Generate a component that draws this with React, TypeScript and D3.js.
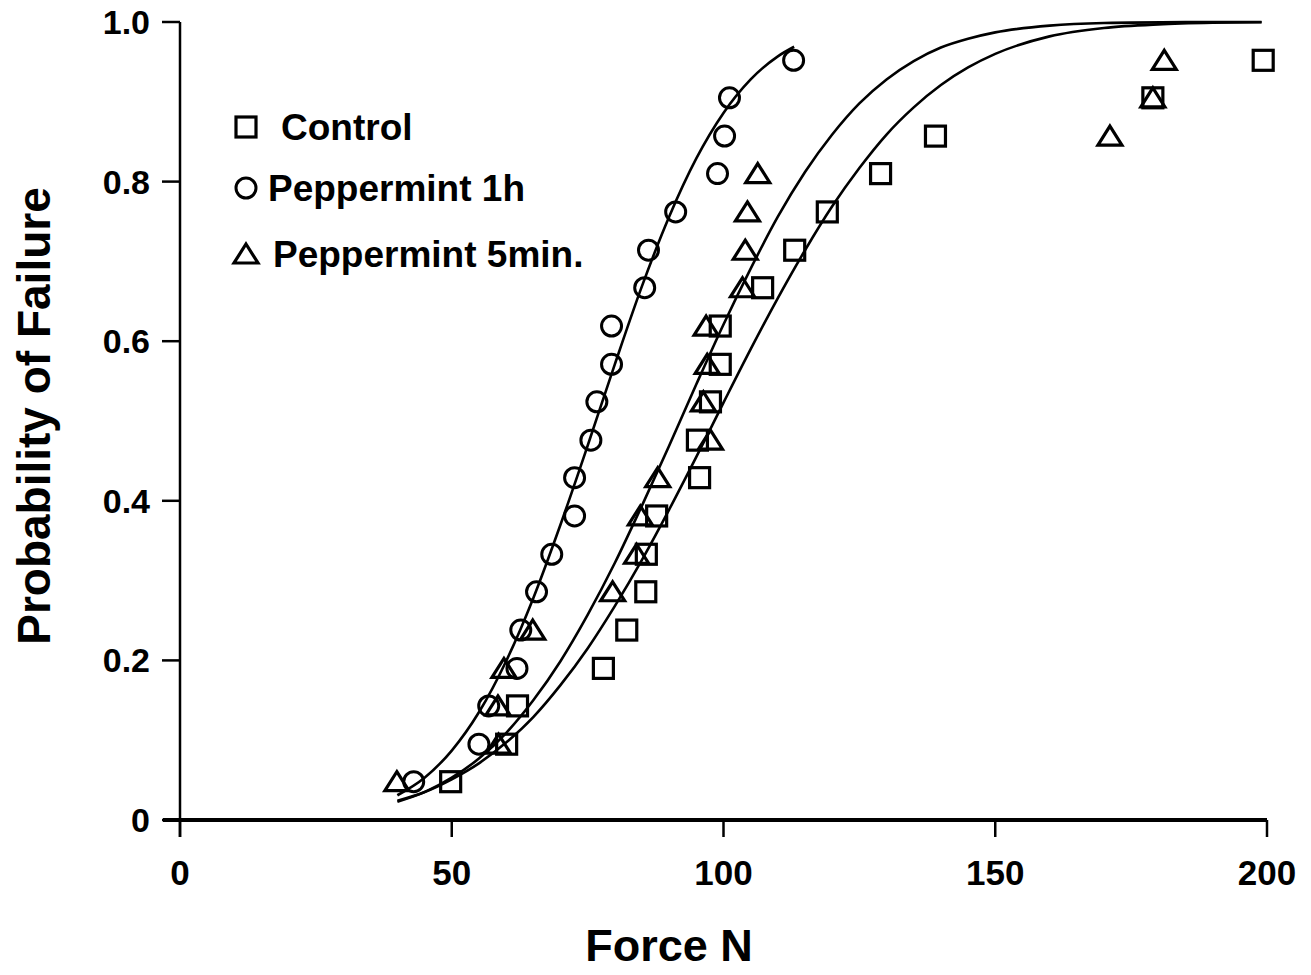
import React, { useEffect, useRef } from 'react';
import * as d3 from 'd3';

// probability levels (rank / 21) shared by the three groups
const probs = [0.048, 0.095, 0.143, 0.19, 0.238, 0.286, 0.333, 0.381, 0.429, 0.476,
  0.524, 0.571, 0.619, 0.667, 0.714, 0.762, 0.81, 0.857, 0.905, 0.952];

const controlForce = [49.8, 60.1, 62.1, 77.9, 82.2, 85.7, 85.8, 87.7, 95.6, 95.2,
  97.6, 99.4, 99.4, 107.2, 113.1, 119.1, 128.9, 139, 179, 199.3];
const pep1hForce = [43.0, 55.0, 56.8, 62.0, 62.7, 65.6, 68.4, 72.6, 72.6, 75.6,
  76.7, 79.4, 79.4, 85.5, 86.2, 91.2, 98.9, 100.2, 101.1, 112.9];
const pep5Force = [39.9, 58.6, 58.5, 59.6, 64.9, 79.6, 84.0, 84.7, 87.9, 97.6,
  96.3, 97.0, 96.8, 103.5, 104.0, 104.4, 106.3, 171.1, 179.0, 181.1];

// fitted curves
const fit1hX = [40, 45, 50, 55, 60, 65, 70, 75, 80, 85, 90, 95, 100, 105, 110, 113];
const fit1hP = [0.031, 0.053, 0.087, 0.135, 0.199, 0.278, 0.37, 0.469, 0.571, 0.669, 0.756, 0.829, 0.886, 0.928, 0.957, 0.969];
const fit5X = [40, 45, 50, 55, 60, 65, 70, 75, 80, 85, 90, 95, 100, 105, 110, 115, 120, 125, 130, 135, 140, 145, 150, 160, 170, 185, 199];
const fit5P = [0.023, 0.035, 0.053, 0.077, 0.109, 0.15, 0.199, 0.257, 0.322, 0.394, 0.469, 0.546, 0.621, 0.691, 0.756, 0.812, 0.859, 0.898, 0.928, 0.951, 0.968, 0.979, 0.987, 0.9955, 0.9987, 0.9998, 1.0];
const fitCX = [40, 45, 50, 55, 60, 65, 70, 75, 80, 85, 90, 95, 100, 105, 110, 115, 120, 125, 130, 135, 140, 145, 150, 160, 170, 180, 190, 199];
const fitCP = [0.024, 0.035, 0.051, 0.071, 0.097, 0.129, 0.169, 0.215, 0.268, 0.326, 0.389, 0.455, 0.523, 0.59, 0.654, 0.714, 0.769, 0.817, 0.859, 0.893, 0.921, 0.943, 0.96, 0.982, 0.9925, 0.997, 0.999, 0.9997];

const xTicks = [0, 50, 100, 150, 200];
const yTicks = [0, 0.2, 0.4, 0.6, 0.8, 1.0];
const legendLabels = ['Control', 'Peppermint 1h', 'Peppermint 5min.'];

const W = 1311;
const H = 975;
const FONT = '"Liberation Sans", Arial, sans-serif';

export default function App() {
  const svgRef = useRef<SVGSVGElement>(null);

  useEffect(() => {
    const svg = d3.select(svgRef.current);
    svg.selectAll('*').remove();

    const x = d3.scaleLinear().domain([0, 200]).range([180, 1267]);
    const y = d3.scaleLinear().domain([0, 1]).range([820, 22]);

    svg.append('rect').attr('width', W).attr('height', H).attr('fill', '#fff');

    // axes
    svg.append('line')
      .attr('x1', 163).attr('x2', x(200))
      .attr('y1', y(0)).attr('y2', y(0))
      .attr('stroke', '#000').attr('stroke-width', 4);
    svg.append('line')
      .attr('x1', x(0)).attr('x2', x(0))
      .attr('y1', y(1)).attr('y2', y(0) + 17)
      .attr('stroke', '#000').attr('stroke-width', 2.5);

    xTicks.forEach(t => {
      svg.append('line')
        .attr('x1', x(t)).attr('x2', x(t))
        .attr('y1', y(0)).attr('y2', y(0) + 17)
        .attr('stroke', '#000').attr('stroke-width', 2.5);
      svg.append('text')
        .attr('x', x(t)).attr('y', 885)
        .attr('text-anchor', 'middle')
        .attr('font-family', FONT).attr('font-weight', 'bold')
        .attr('font-size', 35)
        .text(t);
    });

    yTicks.forEach(t => {
      svg.append('line')
        .attr('x1', x(0) - 18).attr('x2', x(0))
        .attr('y1', y(t)).attr('y2', y(t))
        .attr('stroke', '#000').attr('stroke-width', 2.5);
      svg.append('text')
        .attr('x', x(0) - 30).attr('y', y(t) + 12)
        .attr('text-anchor', 'end')
        .attr('font-family', FONT).attr('font-weight', 'bold')
        .attr('font-size', 34)
        .text(t === 0 ? '0' : d3.format('.1f')(t));
    });

    svg.append('text')
      .attr('transform', 'translate(50,416) rotate(-90)')
      .attr('text-anchor', 'middle')
      .attr('font-family', FONT).attr('font-weight', 'bold')
      .attr('font-size', 46)
      .text('Probability of Failure');

    svg.append('text')
      .attr('x', 669).attr('y', 961)
      .attr('text-anchor', 'middle')
      .attr('font-family', FONT).attr('font-weight', 'bold')
      .attr('font-size', 45)
      .text('Force N');

    // fitted curves
    const line = d3.line<[number, number]>()
      .x(d => x(d[0]))
      .y(d => y(d[1]))
      .curve(d3.curveMonotoneX);

    [[fit1hX, fit1hP], [fit5X, fit5P], [fitCX, fitCP]].forEach(([xs, ps]) => {
      svg.append('path')
        .datum(xs.map((v, i) => [v, ps[i]] as [number, number]))
        .attr('fill', 'none')
        .attr('stroke', '#000')
        .attr('stroke-width', 2.6)
        .attr('d', line);
    });

    // markers
    const square = (g: any, cx: number, cy: number) =>
      g.append('rect')
        .attr('x', cx - 10).attr('y', cy - 10)
        .attr('width', 20).attr('height', 20)
        .attr('fill', 'none').attr('stroke', '#000').attr('stroke-width', 3.2);
    const circle = (g: any, cx: number, cy: number) =>
      g.append('circle')
        .attr('cx', cx).attr('cy', cy).attr('r', 10)
        .attr('fill', 'none').attr('stroke', '#000').attr('stroke-width', 3);
    const triangle = (g: any, cx: number, cy: number) =>
      g.append('path')
        .attr('d', `M${cx},${cy - 10}L${cx + 12},${cy + 9}L${cx - 12},${cy + 9}Z`)
        .attr('fill', 'none').attr('stroke', '#000').attr('stroke-width', 3.2)
        .attr('stroke-linejoin', 'miter');

    const pts = svg.append('g');
    controlForce.forEach((f, i) => square(pts, x(f), y(probs[i])));
    pep1hForce.forEach((f, i) => circle(pts, x(f), y(probs[i])));
    pep5Force.forEach((f, i) => triangle(pts, x(f), y(probs[i])));

    // legend
    const leg = svg.append('g');
    const markers = [square, circle, triangle];
    const rowsY = [127, 188, 254];
    const textX = [281, 268, 273];
    legendLabels.forEach((lab, i) => {
      markers[i](leg, 246, rowsY[i]);
      leg.append('text')
        .attr('x', textX[i]).attr('y', rowsY[i] + 13)
        .attr('font-family', FONT).attr('font-weight', 'bold')
        .attr('font-size', 37)
        .text(lab);
    });
  }, []);

  return (
    <svg
      ref={svgRef}
      width={W}
      height={H}
      viewBox={`0 0 ${W} ${H}`}
      style={{ position: 'absolute', left: 0, top: 0, display: 'block' }}
    />
  );
}
